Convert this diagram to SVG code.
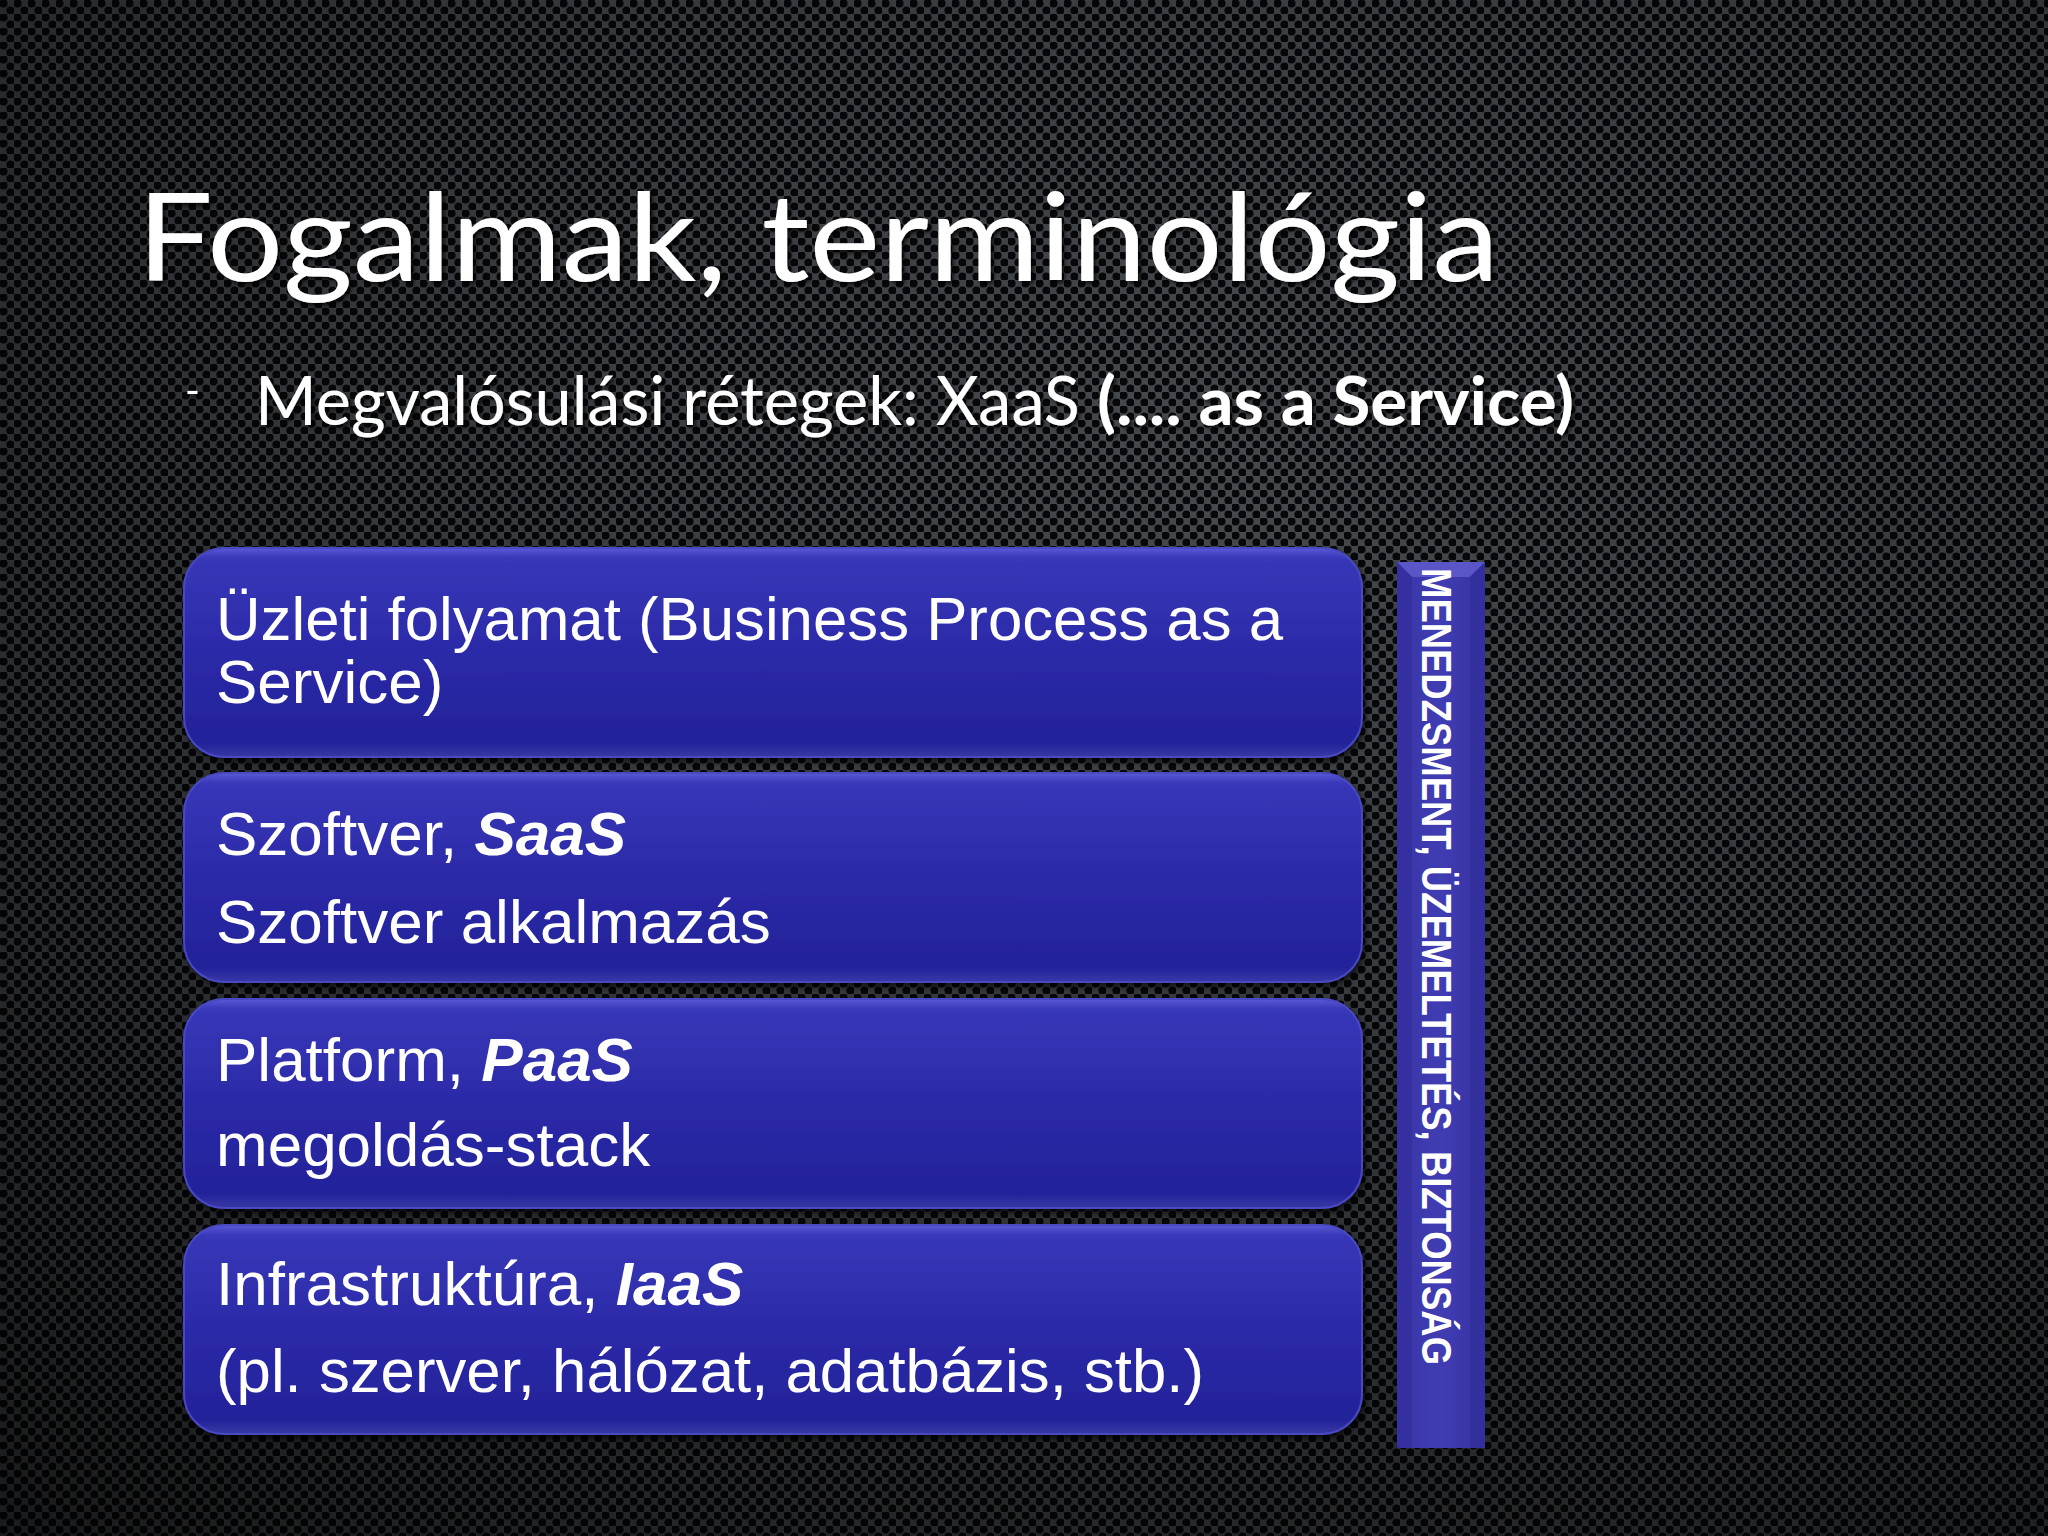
<svg xmlns="http://www.w3.org/2000/svg" width="2048" height="1536" viewBox="0 0 2048 1536">
<defs>
<pattern id="perf" width="14" height="14" patternUnits="userSpaceOnUse">
<rect width="14" height="14" fill="#4a4e53"/>
<circle cx="3.5" cy="3.5" r="4.1" fill="#07080a"/>
<circle cx="10.5" cy="10.5" r="4.1" fill="#07080a"/>
</pattern>
<radialGradient id="vig" cx="0.6" cy="0.3" r="0.9">
<stop offset="0" stop-color="#000" stop-opacity="0.05"/>
<stop offset="0.5" stop-color="#000" stop-opacity="0.3"/>
<stop offset="1" stop-color="#000" stop-opacity="0.65"/>
</radialGradient>
<linearGradient id="boxg" x1="0" y1="0" x2="0" y2="1">
<stop offset="0" stop-color="#5a5ad8"/>
<stop offset="0.05" stop-color="#3737b8"/>
<stop offset="0.5" stop-color="#2b2aa8"/>
<stop offset="0.93" stop-color="#23229a"/>
<stop offset="1" stop-color="#3838a6"/>
</linearGradient>
<linearGradient id="barg" x1="0" y1="0" x2="1" y2="0">
<stop offset="0" stop-color="#3a36a8"/>
<stop offset="0.5" stop-color="#403cb2"/>
<stop offset="1" stop-color="#3632a4"/>
</linearGradient>
<filter id="shadow" x="-5%" y="-5%" width="110%" height="120%">
<feDropShadow dx="3" dy="4" stdDeviation="3" flood-color="#000" flood-opacity="0.7"/>
</filter>
<filter id="tshadow" x="-2%" y="-10%" width="104%" height="130%">
<feDropShadow dx="3" dy="3" stdDeviation="2" flood-color="#000" flood-opacity="0.8"/>
</filter>
<style>
.box{fill:url(#boxg);stroke:#4848c4;stroke-width:2}
.bt{font-family:"Liberation Sans",Arial,sans-serif;font-size:62px;fill:#fff}
.bi{font-weight:bold;font-style:italic}
.title{font-family:Lato,"Open Sans",sans-serif;fill:#fff}
</style>
</defs>
<rect width="2048" height="1536" fill="url(#perf)"/>
<rect width="2048" height="1536" fill="url(#vig)"/>

<g id="title" filter="url(#tshadow)">
<text class="title" x="137" y="281" font-size="123" textLength="1362" lengthAdjust="spacingAndGlyphs">Fogalmak, terminológia</text>
</g>
<g id="subtitle" filter="url(#tshadow)">
<text class="title" x="185" y="405" font-size="40">-</text>
<text class="title" x="255" y="425" font-size="67" textLength="825" lengthAdjust="spacingAndGlyphs">Megvalósulási rétegek: XaaS</text>
<text class="title" x="1097" y="425" font-size="67" font-weight="bold" textLength="477" lengthAdjust="spacingAndGlyphs">(.... as a Service)</text>
</g>

<g id="bpaas" filter="url(#shadow)">
<rect class="box" x="184" y="548" width="1178" height="209" rx="40"/>
<text class="bt" x="216" y="640" textLength="1067" lengthAdjust="spacingAndGlyphs">Üzleti folyamat (Business Process as a</text>
<text class="bt" x="216" y="703">Service)</text>
</g>
<g id="saas" filter="url(#shadow)">
<rect class="box" x="184" y="773" width="1178" height="209" rx="40"/>
<text class="bt" x="216" y="855">Szoftver, <tspan class="bi">SaaS</tspan></text>
<text class="bt" x="216" y="943">Szoftver alkalmazás</text>
</g>
<g id="paas" filter="url(#shadow)">
<rect class="box" x="184" y="999" width="1178" height="209" rx="40"/>
<text class="bt" x="216" y="1081">Platform, <tspan class="bi">PaaS</tspan></text>
<text class="bt" x="216" y="1166">megoldás-stack</text>
</g>
<g id="iaas" filter="url(#shadow)">
<rect class="box" x="184" y="1225" width="1178" height="209" rx="40"/>
<text class="bt" x="216" y="1305">Infrastruktúra, <tspan class="bi">IaaS</tspan></text>
<text class="bt" x="216" y="1392" textLength="988" lengthAdjust="spacingAndGlyphs">(pl. szerver, hálózat, adatbázis, stb.)</text>
</g>

<g id="sidebar">
<rect x="1397" y="562" width="88" height="886" fill="url(#barg)"/>
<polygon points="1397,562 1485,562 1470,577 1412,577" fill="#5a56c8"/>
<polygon points="1397,562 1412,577 1412,1448 1397,1448" fill="#3530a0"/>
<polygon points="1485,562 1470,577 1470,1448 1485,1448" fill="#332f9c"/>
<text transform="translate(1422,568) rotate(90)" font-family="'Liberation Sans',sans-serif" font-weight="bold" font-size="42" fill="#fff" textLength="797" lengthAdjust="spacingAndGlyphs">MENEDZSMENT, ÜZEMELTETÉS, BIZTONSÁG</text>
</g>
<g id="connectors"></g>
</svg>
